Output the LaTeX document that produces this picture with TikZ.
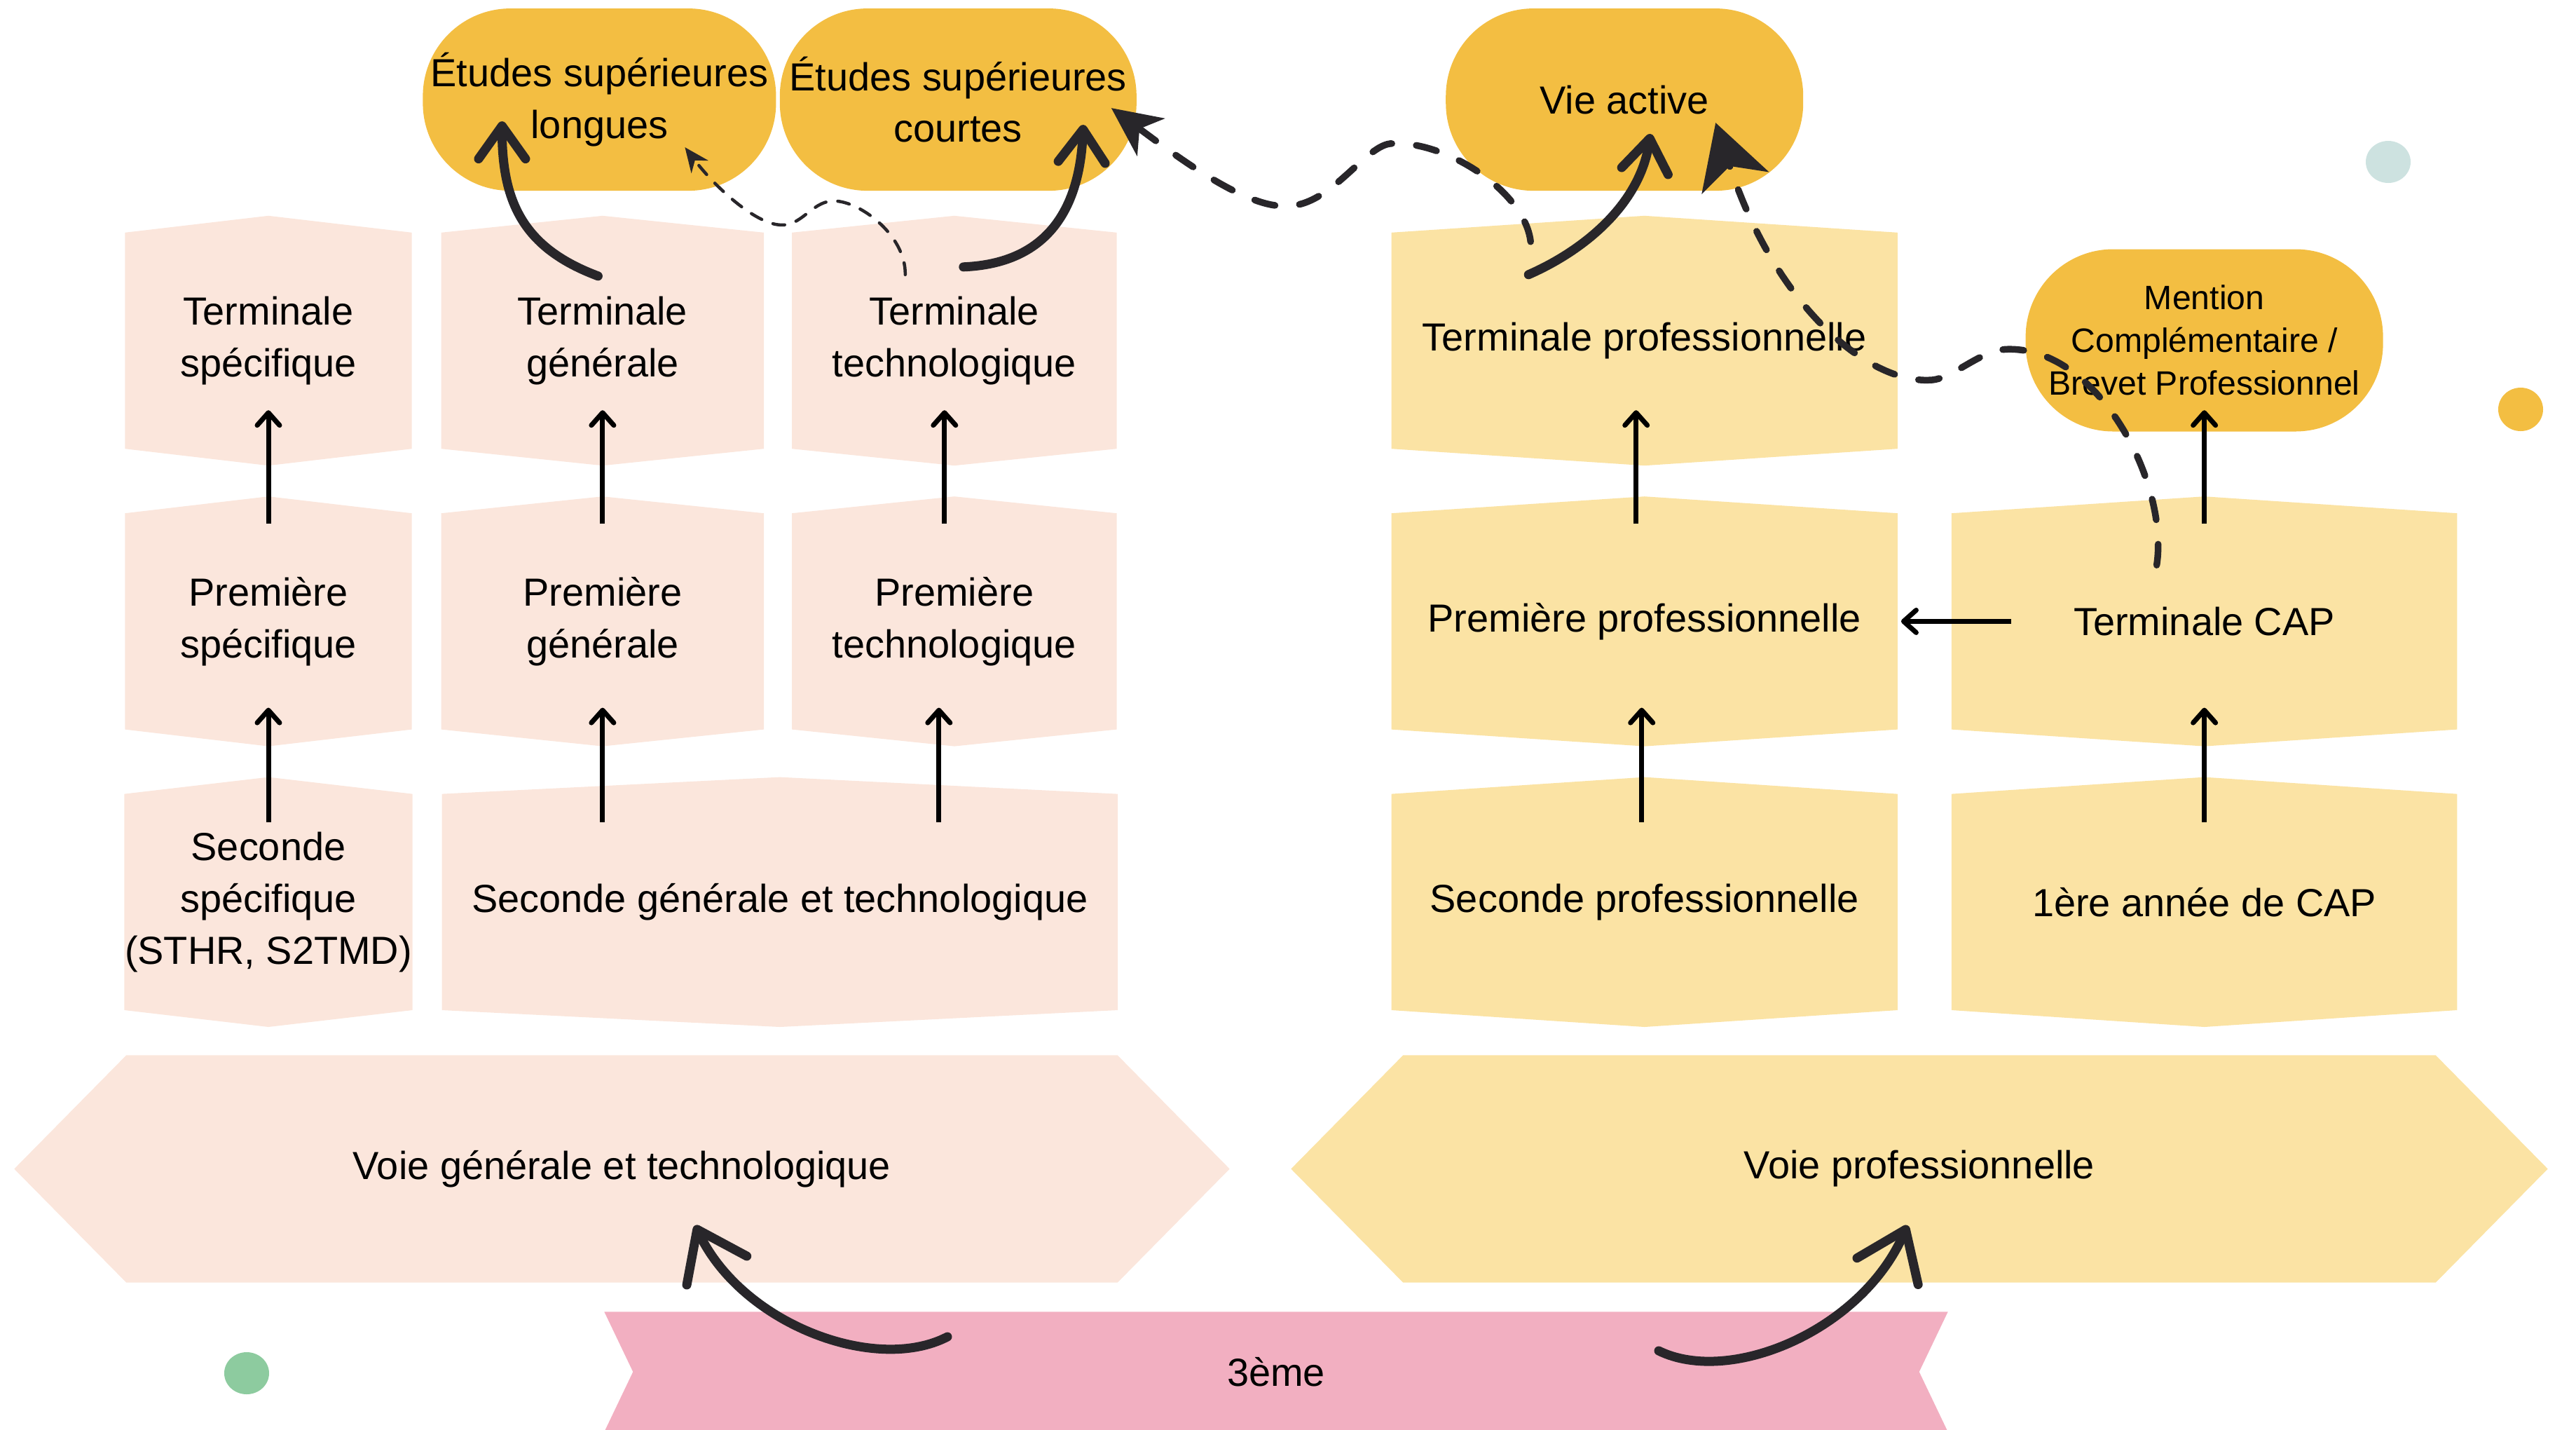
\documentclass[tikz,border=0pt]{standalone}
\usepackage{fontspec}
\setmainfont{Liberation Sans}
\usepackage{xcolor}
\usepackage{tikz}
\definecolor{peachbg}{HTML}{FBE6DC}
\definecolor{sandbg}{HTML}{FBE3A4}
\definecolor{goldbox}{HTML}{F3BE42}
\definecolor{rosebanner}{HTML}{F2AFC1}
\definecolor{inkdark}{HTML}{28262A}
\definecolor{tealdot}{HTML}{CDE2E0}
\definecolor{mintdot}{HTML}{8DCB9F}
\usetikzlibrary{arrows.meta, positioning, calc, backgrounds}

\begin{document}
\begin{tikzpicture}[
    tier/.style={rectangle, minimum height=3.07cm, inner sep=0pt, align=center,
                 font=\fontsize{15.9}{21}\selectfont},
    goal/.style={rectangle, fill=goldbox, rounded corners=1.25cm, minimum height=2.6cm,
                 inner sep=0pt, align=center, font=\fontsize{15.9}{21}\selectfont},
    track/.style={rectangle, minimum height=3.23cm, inner sep=0pt,
                  font=\fontsize{15.9}{21}\selectfont},
    arrow/.style={-{Straight Barb[length=0.18cm, width=0.32cm, round]}, line width=0.07cm},
    swoop/.style={-{Straight Barb[length=0.47cm, width=0.67cm, round]}, line width=0.13cm,
                  inkdark, line cap=round},
    bigswoop/.style={swoop, -{Straight Barb[length=0.65cm, width=0.95cm, round]}},
    dashlink/.style={-{Stealth[length=0.7cm, width=0.66cm, inset=0.2cm]}, line width=0.095cm,
                     inkdark, line cap=round, dash pattern=on 0.3cm off 0.35cm},
    thinlink/.style={-{Stealth[length=0.35cm, width=0.3cm]}, line width=0.045cm,
                     inkdark, line cap=round, dash pattern=on 0.17cm off 0.17cm}
]
    \useasboundingbox (0,0) rectangle (36.76,-20.40);

    \node[tier, minimum width=4.08cm] (tA) at (3.83,-4.86) {Terminale\\spécifique};
    \node[tier, minimum width=4.59cm, right=0.42cm of tA] (tB) {Terminale\\générale};
    \node[tier, minimum width=4.62cm, right=0.40cm of tB] (tC) {Terminale\\technologique};
    \node[tier, minimum width=4.08cm, below=0.92cm of tA] (pA) {Première\\spécifique};
    \node[tier, minimum width=4.59cm, below=0.92cm of tB] (pB) {Première\\générale};
    \node[tier, minimum width=4.62cm, below=0.92cm of tC] (pC) {Première\\technologique};
    \node[tier, minimum width=4.08cm, below=0.92cm of pA] (sA) {Seconde\\spécifique\\(STHR, S2TMD)};
    \node[tier, minimum width=9.63cm, right=0.42cm of sA] (sG) {Seconde générale et technologique};

    \node[tier, minimum width=7.21cm, right=3.92cm of tC] (tD) {Terminale professionnelle};
    \node[tier, minimum width=7.21cm, below=0.92cm of tD] (pD) {Première professionnelle};
    \node[tier, minimum width=7.20cm, right=0.77cm of pD] (pE) {Terminale CAP};
    \node[tier, minimum width=7.21cm, below=0.92cm of pD] (sD) {Seconde professionnelle};
    \node[tier, minimum width=7.20cm, below=0.92cm of pE] (sE) {1ère année de CAP};

    \node[goal, minimum width=5.04cm, above=0.59cm of tB, xshift=-0.045cm] (elong) {Études supérieures\\longues};
    \node[goal, minimum width=5.09cm, right=0.04cm of elong] (ecourt) {Études supérieures\\courtes};
    \node[goal, minimum width=5.10cm, above=0.59cm of tD, xshift=-0.285cm] (vie) {Vie active};
    \node[goal, minimum width=5.10cm, above=1.16cm of pE,
          font=\fontsize{13.7}{17.3}\selectfont] (mention) {Mention\\Complémentaire /\\Brevet Professionnel};

    \node[track, minimum width=14.13cm] (voieg) at (8.875,-16.675) {Voie générale et technologique};
    \node[track, minimum width=14.72cm] (voiep) at (27.39,-16.675) {Voie professionnelle};
    \node[track, minimum width=19.16cm, minimum height=1.70cm] (tres) at (18.21,-19.57) {3ème};

    \begin{scope}[on background layer]
        \foreach \n/\shade in {tA/peachbg, tB/peachbg, tC/peachbg, pA/peachbg, pB/peachbg,
                               pC/peachbg, sA/peachbg, sG/peachbg, tD/sandbg, pD/sandbg,
                               pE/sandbg, sD/sandbg, sE/sandbg}
            \fill[\shade] (\n.north west) -- ([yshift=0.24cm]\n.north) -- (\n.north east)
                -- (\n.south east) -- ([yshift=-0.24cm]\n.south) -- (\n.south west) -- cycle;
        \foreach \n/\shade in {voieg/peachbg, voiep/sandbg}
            \fill[\shade] (\n.north west) -- (\n.north east) -- ([xshift=1.6cm]\n.east)
                -- (\n.south east) -- (\n.south west) -- ([xshift=-1.6cm]\n.west) -- cycle;
        \fill[rosebanner] (tres.north west) -- (tres.north east) -- ([xshift=-0.41cm]tres.east)
            -- (tres.south east) -- (tres.south west) -- ([xshift=0.41cm]tres.west) -- cycle;
    \end{scope}

    \fill[tealdot] (34.08,-2.31) ellipse [x radius=0.32, y radius=0.30];
    \fill[goldbox] (35.97,-5.84) ellipse [x radius=0.32, y radius=0.31];
    \fill[mintdot] (3.52,-19.59) ellipse [x radius=0.32, y radius=0.30];

    \draw[arrow] ([yshift=-0.40cm]sA.north) -- ([yshift=0.31cm]pA.south);
    \draw[arrow] ([yshift=-0.15cm]pA.north) -- ([yshift=0.55cm]tA.south);
    \draw[arrow] ($(sG.north -| pB)+(0,-0.40)$) -- ([yshift=0.31cm]pB.south);
    \draw[arrow] ([yshift=-0.15cm]pB.north) -- ([yshift=0.55cm]tB.south);
    \draw[arrow] ($(sG.north -| pC)+(-0.22,-0.40)$) -- ([shift={(-0.22,0.31)}]pC.south);
    \draw[arrow] ([shift={(-0.14,-0.15)}]pC.north) -- ([shift={(-0.14,0.55)}]tC.south);
    \draw[arrow] ([shift={(-0.04,-0.40)}]sD.north) -- ([shift={(-0.04,0.31)}]pD.south);
    \draw[arrow] ([shift={(-0.12,-0.15)}]pD.north) -- ([shift={(-0.12,0.55)}]tD.south);
    \draw[arrow] ([yshift=-0.40cm]sE.north) -- ([yshift=0.31cm]pE.south);
    \draw[arrow] ([yshift=-0.15cm]pE.north) -- ([yshift=0.31cm]mention.south);
    \draw[arrow] ([xshift=0.85cm]pE.west) -- ([xshift=0.05cm]pD.east);

    \draw[swoop] ([shift={(-0.065,-0.62)}]tB.north) .. controls +(-1.07,0.40) and +(0,-1.15)
        .. ([shift={(-1.39,-0.31)}]elong.center);
    \draw[swoop] ([shift={(0.13,-0.49)}]tC.north) .. controls +(1.2,0.05) and +(-0.05,-1.2)
        .. ([shift={(1.785,-0.36)}]ecourt.center);
    \draw[swoop] ([shift={(-1.655,-0.60)}]tD.north) .. controls +(0.8,0.35) and +(-0.15,-1.0)
        .. ([shift={(0.37,-0.49)}]vie.center);
    \draw[bigswoop] ([shift={(-4.69,0.50)}]tres.center) .. controls +(-1.02,-0.53) and +(0.68,-1.42)
        .. ([shift={(1.045,-0.805)}]voieg.center);
    \draw[bigswoop] ([shift={(5.46,0.30)}]tres.center) .. controls +(1.02,-0.5) and +(-0.65,-1.5)
        .. ([shift={(-0.17,-0.805)}]voiep.center);

    \draw[thinlink] ([shift={(-0.70,-0.60)}]tC.north)
        .. controls +(0.01,0.58) and +(0.36,0.03) .. ++(-1.05,1.05)
        .. controls +(-0.29,-0.02) and +(0.30,-0.03) .. ++(-0.74,-0.34)
        .. controls +(-0.35,0.02) and +(0.44,-0.58) .. ([shift={(1.22,-0.68)}]elong.center);
    \draw[dashlink] ([shift={(-1.625,-0.13)}]tD.north)
        .. controls +(-0.08,0.71) and +(0.77,0.04) .. ++(-1.97,1.40)
        .. controls +(-0.38,0.01) and +(0.66,-0.03) .. ++(-1.54,-0.89)
        .. controls +(-0.59,-0.02) and +(0.87,-0.64) .. ([shift={(2.185,-0.12)}]ecourt.center);
    \draw[dashlink, -{Stealth[length=0.9cm, width=1.0cm, inset=0.25cm]}] ([shift={(-0.68,-0.74)}]pE.north)
        .. controls +(0.18,1.15) and +(1.30,0.02) .. ++(-2.12,3.08)
        .. controls +(-0.40,0) and +(0.32,0) .. ++(-1.12,-0.44)
        .. controls +(-0.88,-0.04) and +(0.86,-2.63) .. ([shift={(1.30,-0.33)}]vie.center);
\end{tikzpicture}
\end{document}
